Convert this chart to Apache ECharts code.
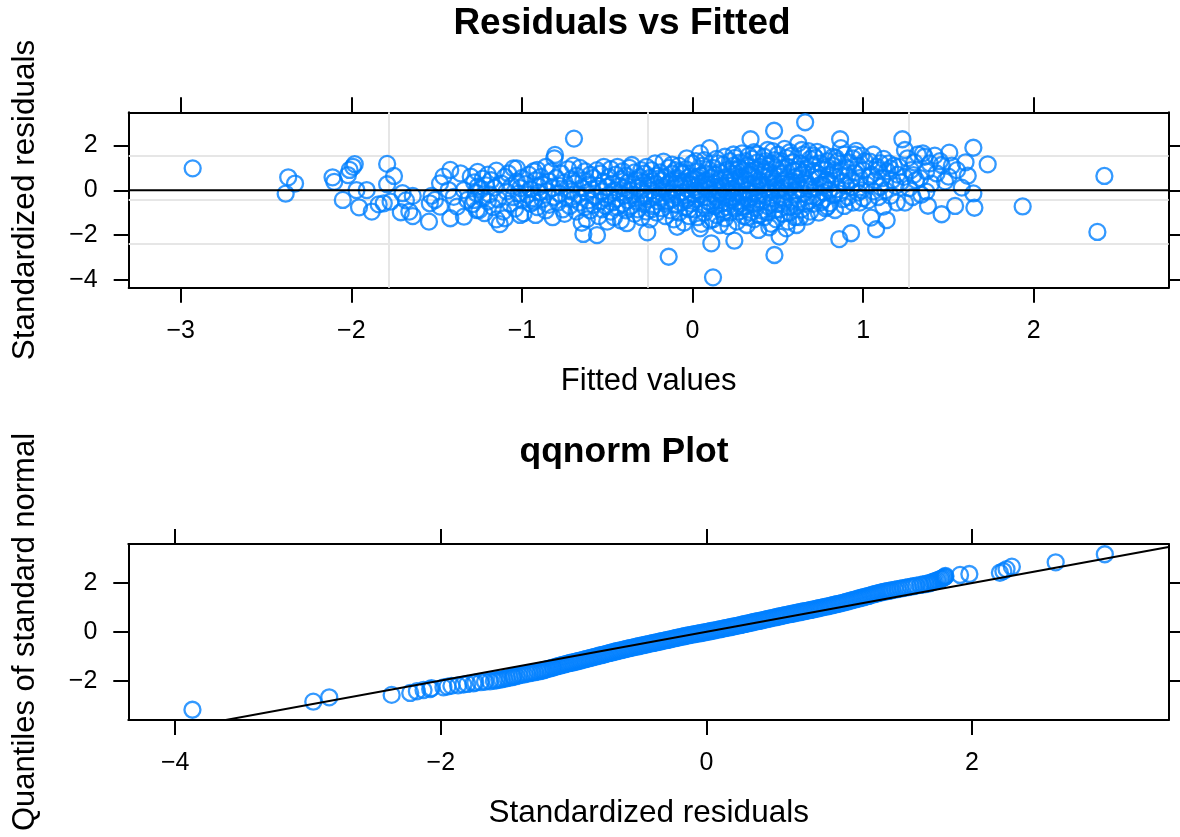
<!DOCTYPE html>
<html>
<head>
<meta charset="utf-8">
<title>Residuals vs Fitted</title>
<script src="https://cdn.jsdelivr.net/npm/echarts@6/dist/echarts.min.js"></script>
<style>
  html, body { margin: 0; padding: 0; background: #fff; }
  #chart { width: 1180px; height: 837px; }
</style>
</head>
<body>
<div id="chart"></div>
<script>
// fitted value / standardized residual pairs
const fittedResid = [
  // left tail
  [-2.93,0.98],[-2.37,0.58],[-2.33,0.30],[-2.385,-0.15],[-2.11,0.58],[-2.10,0.38],[-2.05,-0.43],[-2.02,0.68],
  [-2.01,0.91],[-1.98,1.17],[-1.99,1.05],[-1.97,0.01],[-1.955,-0.76],[-1.91,0.01],[-1.88,-0.95],[-1.84,-0.63],
  [-1.81,-0.58],[-1.79,1.18],[-1.75,0.64],[-1.79,0.27],[-1.77,-0.51],[-1.71,-0.98],[-1.70,-0.13],[-1.68,-0.45],
  [-1.64,-0.25],[-1.66,-0.95],[-1.64,-1.15],[-1.545,-1.40],[-1.54,-0.58],[-1.53,-0.25],[-1.51,-0.43],[-1.48,0.31],
  [-1.48,-0.73],[-1.46,0.61],[-1.43,0.01],[-1.42,0.91],[-1.42,-1.25],[-1.38,-0.73],[-1.34,-1.18],[-1.40,-0.29],
  [-1.34,0.01],[-1.32,-0.43],[-1.30,0.61],[-1.36,0.76],[-1.28,-0.43],[-1.265,-0.88],[-1.26,0.16],
  // -1.3 .. -0.8
  [-1.29,-0.62],[-1.28,0.35],[-1.27,-0.12],[-1.26,0.82],[-1.25,-0.88],[-1.24,0.05],[-1.23,-0.35],[-1.23,0.52],
  [-1.22,-1.02],[-1.21,0.22],[-1.2,-0.5],[-1.2,0.7],[-1.19,-0.18],[-1.18,0.45],[-1.17,-0.75],[-1.16,0.12],
  [-1.15,-1.3],[-1.15,0.88],[-1.14,-0.4],[-1.13,-1.51],[-1.12,0.3],[-1.11,-0.95],[-1.1,-1.25],[-1.1,0.6],
  [-1.09,-0.05],[-1.08,0.75],[-1.07,-0.6],[-1.06,0.2],[-1.05,-0.3],[-1.05,0.98],[-1.04,-0.82],[-1.03,0.4],
  [-1.03,0.98],[-1.02,-0.15],[-1.01,-1.1],[-1.0,0.55],[-1.0,-0.45],[-1.01,0.1],[-0.99,-1.03],[-0.98,0.28],
  [-0.97,-0.2],[-0.96,0.7],[-0.95,-0.6],[-0.95,0.05],[-0.94,-0.35],[-0.93,0.85],[-0.92,-1.1],[-0.92,0.45],
  [-0.91,0.91],[-0.91,-0.75],[-0.9,0.15],[-0.9,-0.1],[-0.93,-0.5],[-0.89,0.6],[-0.88,-0.4],[-0.87,0.25],
  [-0.86,-0.9],[-0.86,1.05],[-0.85,-0.05],[-0.84,0.4],[-0.84,-0.65],[-0.83,0.85],[-0.82,-1.2],[-0.82,0.1],
  [-0.81,-0.3],[-0.81,1.43],[-0.8,0.55],[-0.806,1.58],
  // -0.8 .. -0.4
  [-0.79,-0.55],[-0.78,0.2],[-0.78,-0.15],[-0.77,0.75],[-0.76,-0.85],[-0.75,0.35],[-0.75,-1.05],[-0.74,-0.3],
  [-0.73,0.95],[-0.72,0.05],[-0.72,-0.7],[-0.71,0.5],[-0.7,-0.4],[-0.7,1.1],[-0.695,2.31],[-0.71,-0.05],
  [-0.69,0.3],[-0.68,-0.95],[-0.68,0.65],[-0.67,-0.2],[-0.66,1.0],[-0.66,-0.55],[-0.65,0.1],[-0.64,-1.95],
  [-0.64,0.45],[-0.63,-0.75],[-0.63,0.85],[-0.62,-0.1],[-0.62,-1.3],[-0.61,0.25],[-0.61,-0.45],[-0.6,0.7],
  [-0.6,-0.9],[-0.65,-1.45],[-0.59,0.05],[-0.58,-0.65],[-0.58,0.55],[-0.57,-0.3],[-0.56,-2.0],[-0.56,0.9],
  [-0.55,-1.15],[-0.55,0.2],[-0.54,-0.5],[-0.54,0.75],[-0.53,-0.05],[-0.53,-0.85],[-0.52,0.4],[-0.52,1.05],
  [-0.51,-0.35],[-0.5,-1.4],[-0.5,0.15],[-0.51,-0.7],[-0.49,0.6],[-0.49,-0.2],[-0.48,-0.95],[-0.48,0.95],
  [-0.47,0.3],[-0.47,-0.55],[-0.46,-1.2],[-0.46,0.0],[-0.45,0.7],[-0.45,-0.4],[-0.44,1.05],[-0.44,-0.75],
  [-0.43,0.2],[-0.43,-0.1],[-0.42,-1.35],[-0.42,0.5],[-0.41,-0.6],[-0.41,0.85],[-0.4,-0.25],[-0.4,0.1],
  // -0.4 .. 0
  [-0.39,-0.9],[-0.39,0.65],[-0.385,-1.47],[-0.38,0.35],[-0.38,-0.45],[-0.37,0.0],[-0.37,1.0],[-0.36,-0.7],
  [-0.356,1.13],[-0.35,0.25],[-0.35,-0.2],[-0.34,0.8],[-0.34,-1.05],[-0.33,0.45],[-0.33,-0.5],[-0.32,0.1],
  [-0.32,-0.85],[-0.31,0.6],[-0.31,-0.3],[-0.3,0.9],[-0.3,-1.2],[-0.3,0.0],[-0.29,0.35],[-0.29,-0.6],
  [-0.28,0.75],[-0.28,-0.15],[-0.27,1.05],[-0.27,-0.95],[-0.265,-1.88],[-0.26,0.2],[-0.26,-0.4],[-0.25,0.55],
  [-0.25,-1.3],[-0.24,0.0],[-0.24,0.9],[-0.23,-0.7],[-0.23,0.4],[-0.22,-0.25],[-0.22,1.2],[-0.21,-1.0],
  [-0.21,0.65],[-0.2,0.1],[-0.2,-0.5],[-0.24,-0.85],[-0.22,0.3],[-0.28,-0.3],[-0.19,0.8],[-0.19,-0.3],
  [-0.18,0.45],[-0.18,-0.8],[-0.17,1.28],[-0.17,0.05],[-0.16,-1.15],[-0.16,0.6],[-0.15,-0.5],[-0.15,0.25],
  [-0.14,-2.97],[-0.14,1.0],[-0.14,-0.15],[-0.13,-0.9],[-0.13,0.4],[-0.12,0.75],[-0.12,-0.4],[-0.11,0.1],
  [-0.11,-1.3],[-0.1,0.9],[-0.1,-0.65],[-0.1,0.3],[-0.18,0.15],[-0.15,-0.05],[-0.12,1.15],[-0.16,-0.6],
  [-0.09,-0.2],[-0.09,0.55],[-0.08,-1.0],[-0.08,1.1],[-0.07,0.2],[-0.07,-0.55],[-0.06,0.75],[-0.06,-0.1],
  [-0.05,-1.45],[-0.05,0.4],[-0.04,-0.75],[-0.04,0.95],[-0.034,1.43],[-0.03,0.05],[-0.03,-0.35],[-0.02,0.6],
  [-0.02,-1.15],[-0.01,0.25],[-0.01,-0.6],[0.0,1.2],[0.0,-0.15],[-0.09,-1.63],[-0.06,0.35],[-0.04,-0.45],
  [-0.02,-0.85],[-0.07,0.85],[-0.01,0.45],[-0.05,-0.25],
  // 0 .. 0.4
  [0.01,-0.85],[0.01,0.5],[0.02,0.0],[0.02,-0.4],[0.03,0.85],[0.03,-1.2],[0.04,0.3],[0.044,1.65],
  [0.044,-1.7],[0.05,-0.2],[0.05,0.65],[0.06,-0.65],[0.06,1.1],[0.07,0.15],[0.07,-1.0],[0.08,0.45],
  [0.08,-0.3],[0.09,0.95],[0.09,-0.5],[0.1,1.88],[0.1,0.05],[0.1,-1.35],[0.02,1.3],[0.04,-0.05],
  [0.06,0.35],[0.08,-0.8],[0.03,0.6],[0.07,1.35],[0.05,-1.5],[0.09,0.25],[0.01,0.15],[0.08,0.75],
  [0.11,-2.37],[0.11,0.55],[0.12,-3.89],[0.12,-0.15],[0.12,1.0],[0.13,-0.7],[0.13,0.3],[0.14,-1.1],
  [0.14,1.4],[0.15,0.0],[0.15,-0.45],[0.16,0.8],[0.16,-1.55],[0.17,0.2],[0.17,-0.85],[0.18,1.15],
  [0.18,-0.25],[0.19,0.55],[0.19,-1.25],[0.2,-0.05],[0.2,0.9],[0.11,-0.6],[0.13,0.7],[0.14,-0.3],
  [0.16,0.45],[0.17,-0.6],[0.18,0.1],[0.19,1.5],[0.15,1.2],[0.12,-1.3],[0.2,-0.75],[0.14,0.15],
  [0.18,-1.0],[0.16,-0.1],[0.21,0.35],[0.21,-0.55],[0.22,1.3],[0.22,-1.0],[0.23,0.05],[0.23,0.75],
  [0.24,-0.3],[0.24,1.6],[0.245,-2.25],[0.25,0.5],[0.25,-0.8],[0.26,0.15],[0.26,-1.4],[0.27,1.0],
  [0.27,-0.15],[0.28,0.6],[0.28,-0.6],[0.29,1.65],[0.29,0.25],[0.3,-1.15],[0.3,0.85],[0.3,-0.35],
  [0.22,0.55],[0.23,-0.45],[0.24,1.1],[0.25,-0.05],[0.26,0.9],[0.27,-0.95],[0.28,0.4],[0.29,-0.2],
  [0.21,-1.6],[0.23,0.2],[0.26,-0.5],[0.28,1.25],[0.25,1.45],[0.29,-0.75],[0.31,0.5],[0.31,-0.7],
  [0.318,-1.55],[0.32,1.1],[0.32,0.0],[0.33,-0.4],[0.33,0.7],[0.34,2.28],[0.34,-1.0],[0.35,0.3],
  [0.35,1.4],[0.36,-0.15],[0.36,-1.3],[0.37,0.9],[0.37,0.15],[0.38,-0.55],[0.38,1.6],[0.386,-1.77],
  [0.39,0.45],[0.39,-0.25],[0.4,1.05],[0.4,-0.9],[0.31,1.3],[0.32,-1.2],[0.33,0.25],[0.34,0.85],
  [0.35,-0.6],[0.36,0.6],[0.37,-0.05],[0.38,1.25],[0.39,-1.1],[0.34,-0.3],[0.36,1.7],[0.33,1.55],
  [0.37,-0.8],[0.4,0.2],
  // 0.4 .. 0.8
  [0.41,0.7],[0.41,-0.45],[0.42,1.5],[0.42,-1.2],[0.43,0.1],[0.43,0.95],[0.44,-0.7],[0.44,1.8],
  [0.45,0.35],[0.45,-0.1],[0.46,-1.5],[0.46,1.2],[0.47,0.55],[0.47,-0.35],[0.478,2.66],[0.48,-0.9],
  [0.48,-2.89],[0.49,0.2],[0.49,1.0],[0.5,-0.6],[0.5,1.6],[0.5,0.0],[0.41,0.25],[0.42,-0.2],
  [0.43,1.3],[0.44,-1.0],[0.45,0.8],[0.46,0.05],[0.47,1.75],[0.48,0.4],[0.49,-1.3],[0.44,0.6],
  [0.46,-0.55],[0.42,0.85],[0.48,1.35],[0.45,-1.65],[0.51,-2.07],[0.51,0.75],[0.52,-0.3],[0.52,1.3],
  [0.53,0.3],[0.53,-1.05],[0.54,1.85],[0.54,-0.5],[0.55,0.55],[0.55,-0.05],[0.56,1.05],[0.56,-1.4],
  [0.57,0.15],[0.57,-0.75],[0.58,1.55],[0.58,0.4],[0.59,-0.2],[0.59,0.9],[0.6,-1.2],[0.6,0.6],
  [0.51,-0.85],[0.52,0.1],[0.53,1.0],[0.54,0.45],[0.55,-1.7],[0.56,0.25],[0.57,1.7],[0.58,-0.45],
  [0.59,1.25],[0.6,0.0],[0.53,-0.6],[0.55,1.45],[0.57,-1.0],[0.6,0.85],[0.61,-1.55],[0.61,0.35],
  [0.62,2.1],[0.62,-0.4],[0.63,1.2],[0.63,0.05],[0.64,-0.85],[0.64,0.7],[0.65,1.6],[0.65,-0.15],
  [0.66,3.04],[0.66,0.45],[0.67,-1.18],[0.67,1.0],[0.68,-0.5],[0.68,0.2],[0.69,1.4],[0.69,-0.95],
  [0.7,0.6],[0.7,-0.25],[0.62,0.9],[0.63,-1.2],[0.64,1.8],[0.66,-0.6],[0.67,0.3],[0.68,1.75],
  [0.69,0.05],[0.65,0.8],[0.7,1.15],[0.61,-0.7],[0.71,0.85],[0.71,-0.6],[0.72,1.45],[0.72,0.1],
  [0.73,1.72],[0.73,-0.3],[0.74,0.55],[0.74,-1.0],[0.75,1.2],[0.75,0.25],[0.76,-0.45],[0.76,0.95],
  [0.77,1.6],[0.77,-0.1],[0.78,0.4],[0.78,-0.8],[0.787,0.46],[0.79,-0.73],[0.79,1.3],[0.8,0.7],
  [0.8,0.0],[0.73,0.75],[0.75,-0.55],[0.77,0.2],[0.79,1.05],[0.71,1.55],
  // 0.8 .. 1.3
  [0.806,-0.58],[0.81,0.3],[0.82,1.1],[0.825,1.5],[0.83,-0.2],[0.835,-0.88],[0.84,0.6],[0.85,1.3],
  [0.85,0.05],[0.86,-2.18],[0.865,2.28],[0.87,1.88],[0.87,0.85],[0.88,-0.4],[0.88,0.4],[0.89,1.6],
  [0.89,-0.7],[0.9,0.2],[0.9,1.0],[0.83,0.9],[0.86,-0.15],[0.84,1.45],[0.91,0.65],[0.91,-0.3],
  [0.92,1.25],[0.929,-1.92],[0.93,0.15],[0.94,1.43],[0.94,-0.55],[0.95,0.8],[0.96,1.76],[0.96,0.35],
  [0.97,-0.1],[0.97,1.1],[0.98,-0.55],[0.98,0.55],[0.99,1.55],[0.99,0.0],[1.0,0.9],[1.0,-0.35],
  [0.95,1.6],[0.93,0.45],[1.01,1.3],[1.02,0.25],[1.03,-0.45],[1.04,1.28],[1.046,-1.22],[1.05,0.7],
  [1.06,1.6],[1.06,-0.05],[1.07,0.45],[1.076,-1.74],[1.08,1.05],[1.09,-0.3],[1.09,0.9],[1.1,1.21],
  [1.1,0.15],[1.04,0.6],[1.11,0.55],[1.118,-0.73],[1.12,1.4],[1.13,0.0],[1.138,-1.33],[1.14,0.85],
  [1.15,1.2],[1.158,0.98],[1.16,-0.25],[1.17,0.45],[1.18,1.1],[1.19,0.2],[1.197,-0.55],[1.2,0.7],
  [1.21,1.05],[1.22,0.35],[1.23,2.28],[1.24,0.6],[1.245,1.80],[1.245,-0.55],[1.26,1.43],[1.27,0.1],
  [1.28,0.9],[1.295,0.68],[1.29,-0.3],[1.3,1.25],
  // right tail
  [1.31,0.45],[1.32,1.6],[1.334,0.54],[1.34,-0.2],[1.35,1.65],[1.36,1.50],[1.37,-0.06],[1.37,0.85],
  [1.38,-0.69],[1.39,1.2],[1.40,0.3],[1.42,1.55],[1.43,0.75],[1.45,1.3],[1.46,1.13],[1.46,-1.07],
  [1.48,0.4],[1.50,0.61],[1.505,1.68],[1.52,1.1],[1.539,-0.70],[1.55,0.9],[1.578,0.12],[1.60,1.25],
  [1.613,0.65],[1.646,1.90],[1.646,-0.14],[1.652,-0.78],[1.73,1.16],[1.935,-0.72],[2.373,-1.86],[2.414,0.64]
];

// sorted standardized residual / normal quantile pairs
const qqPoints = [
  [-3.87,-3.19],[-2.96,-2.86],[-2.84,-2.68],[-2.37,-2.58],[-2.23,-2.50],[-2.18,-2.43],[-2.13,-2.38],[-2.08,-2.34],
  [-2.07,-2.30],[-1.98,-2.27],[-1.95,-2.24],[-1.92,-2.21],[-1.87,-2.19],[-1.83,-2.16],[-1.80,-2.13],[-1.755,-2.11],
  [-1.74,-2.08],[-1.70,-2.06],[-1.667,-2.04],[-1.63,-2.02],[-1.60,-2.0],
  [-1.58,-1.98],[-1.56,-1.96],[-1.54,-1.94],[-1.52,-1.92],[-1.50,-1.89],[-1.48,-1.87],[-1.46,-1.85],[-1.45,-1.83],
  [-1.43,-1.81],[-1.41,-1.78],[-1.39,-1.76],[-1.37,-1.74],[-1.35,-1.71],[-1.33,-1.69],[-1.31,-1.67],[-1.29,-1.65],
  [-1.27,-1.62],[-1.25,-1.60],[-1.235,-1.58],[-1.22,-1.56],[-1.205,-1.53],[-1.19,-1.51],[-1.175,-1.49],[-1.16,-1.47],
  [-1.15,-1.45],[-1.135,-1.43],[-1.12,-1.40],[-1.105,-1.385],[-1.09,-1.36],[-1.075,-1.34],[-1.06,-1.315],[-1.045,-1.30],
  [-1.03,-1.27],[-1.015,-1.26],[-1.0,-1.24],[-0.985,-1.22],[-0.97,-1.20],[-0.955,-1.18],[-0.94,-1.16],[-0.925,-1.135],
  [-0.91,-1.115],[-0.895,-1.09],[-0.88,-1.075],[-0.865,-1.05],[-0.85,-1.03],[-0.835,-1.01],[-0.82,-0.99],[-0.805,-0.965],
  [-0.79,-0.95],[-0.775,-0.925],[-0.76,-0.905],[-0.745,-0.885],[-0.73,-0.86],[-0.715,-0.845],[-0.70,-0.82],[-0.685,-0.80],
  [-0.67,-0.78],[-0.655,-0.76],[-0.64,-0.745],[-0.625,-0.72],[-0.61,-0.705],[-0.595,-0.685],[-0.58,-0.665],[-0.565,-0.65],
  [-0.55,-0.63],[-0.535,-0.61],[-0.52,-0.595],[-0.505,-0.575],[-0.49,-0.56],[-0.475,-0.54],[-0.46,-0.52],[-0.445,-0.505],
  [-0.43,-0.485],[-0.415,-0.47],[-0.40,-0.45],[-0.385,-0.435],[-0.37,-0.415],[-0.355,-0.40],[-0.34,-0.38],[-0.325,-0.36],
  [-0.31,-0.345],[-0.295,-0.325],[-0.28,-0.31],[-0.265,-0.29],[-0.25,-0.27],[-0.235,-0.255],[-0.22,-0.235],[-0.205,-0.22],
  [-0.19,-0.20],[-0.175,-0.185],[-0.16,-0.165],[-0.145,-0.15],[-0.13,-0.13],[-0.115,-0.115],[-0.10,-0.10],[-0.085,-0.085],
  [-0.07,-0.07],[-0.055,-0.055],[-0.04,-0.04],[-0.025,-0.025],[-0.01,-0.01],[0.005,0.005],[0.02,0.02],[0.035,0.04],
  [0.05,0.055],[0.065,0.07],[0.08,0.09],[0.095,0.105],[0.11,0.12],[0.125,0.14],[0.14,0.155],[0.155,0.17],
  [0.17,0.19],[0.185,0.205],[0.20,0.22],[0.215,0.24],[0.23,0.255],[0.245,0.275],[0.26,0.29],[0.275,0.31],
  [0.29,0.33],[0.305,0.345],[0.32,0.365],[0.335,0.38],[0.35,0.40],[0.365,0.42],[0.38,0.435],[0.395,0.455],
  [0.41,0.47],[0.425,0.49],[0.44,0.51],[0.455,0.525],[0.47,0.545],[0.485,0.56],[0.50,0.58],[0.515,0.60],
  [0.53,0.615],[0.545,0.635],[0.56,0.65],[0.575,0.67],[0.59,0.69],[0.605,0.705],[0.62,0.72],[0.635,0.74],
  [0.65,0.755],[0.665,0.77],[0.68,0.79],[0.695,0.805],[0.71,0.82],[0.725,0.84],[0.74,0.855],[0.755,0.87],
  [0.77,0.89],[0.785,0.905],[0.80,0.92],[0.815,0.94],[0.83,0.955],[0.845,0.975],[0.86,0.99],[0.875,1.01],
  [0.89,1.03],[0.905,1.045],[0.92,1.065],[0.935,1.08],[0.95,1.10],[0.965,1.12],[0.98,1.14],[0.995,1.155],
  [1.01,1.175],[1.025,1.195],[1.04,1.215],[1.055,1.24],[1.07,1.26],[1.085,1.285],[1.10,1.31],[1.115,1.33],
  [1.13,1.35],[1.145,1.375],[1.16,1.395],[1.175,1.415],[1.19,1.435],[1.205,1.46],[1.22,1.48],[1.235,1.505],
  [1.25,1.53],[1.265,1.55],[1.28,1.575],[1.295,1.595],[1.31,1.615],[1.325,1.635],[1.34,1.655],[1.355,1.67],
  [1.37,1.685],[1.385,1.70],[1.40,1.72],[1.42,1.74],[1.44,1.76],[1.46,1.78],[1.48,1.80],[1.50,1.82],
  [1.52,1.84],[1.54,1.86],[1.56,1.88],[1.58,1.90],[1.61,1.93],[1.63,1.95],[1.65,1.97],[1.67,1.99],
  [1.684,2.01],[1.70,2.04],[1.71,2.06],[1.72,2.09],[1.734,2.11],[1.745,2.14],[1.76,2.17],[1.77,2.19],
  [1.78,2.21],[1.79,2.24],[1.797,2.27],[1.80,2.30],[1.91,2.34],[1.98,2.38],[2.21,2.43],[2.236,2.50],
  [2.26,2.58],[2.30,2.68],[2.63,2.86],[3.0,3.19]
];

// reference line through the qq points
const qqLine = [[-4.35, -4.34], [3.48, 3.49]];

const topXTicks = [-3, -2, -1, 0, 1, 2];
const topYTicks = [-4, -2, 0, 2];
const qqXTicks = [-4, -2, 0, 2];
const qqYTicks = [-2, 0, 2];

// axis extents (data range padded like lattice does)
const topXRange = [-3.305, 2.791];
const topYRange = [-4.352, 3.485];
const qqXRange = [-4.353, 3.481];
const qqYRange = [-3.61, 3.61];

const FONT = '"Liberation Sans", Arial, Helvetica, sans-serif';
const BLUE = '#0080ff';

const quarters = (r) => [1, 2, 3].map((k) => r[0] + ((r[1] - r[0]) * k) / 4);
const minus = (v) => (v < 0 ? '\u2212' + Math.abs(v) : String(v));

const makeAxis = (gridIndex, position, range, ticks, showLabel) => ({
  type: 'value',
  gridIndex: gridIndex,
  position: position,
  min: range[0],
  max: range[1],
  axisLine: { show: true, onZero: false, lineStyle: { color: '#000', width: 2 } },
  axisTick: { show: true, inside: false, length: 15, customValues: ticks, lineStyle: { color: '#000', width: 2 } },
  axisLabel: {
    show: showLabel,
    customValues: ticks,
    margin: 31,
    color: '#000',
    fontSize: 25,
    fontFamily: FONT,
    formatter: minus
  },
  splitLine: { show: false }
})

const chart = echarts.init(document.getElementById('chart'), null, { renderer: 'canvas' });

const circleStyle = { color: 'rgba(0,0,0,0)', borderColor: BLUE, borderWidth: 2.3 };

const option = {
  animation: false,
  backgroundColor: '#fff',
  grid: [
    { left: 128.7, top: 112.3, width: 1040, height: 175.4 },
    { left: 128.3, top: 544, width: 1040.4, height: 176 }
  ],
  xAxis: [
    makeAxis(0, 'bottom', topXRange, topXTicks, true),
    makeAxis(0, 'top', topXRange, topXTicks, false),
    makeAxis(1, 'bottom', qqXRange, qqXTicks, true),
    makeAxis(1, 'top', qqXRange, qqXTicks, false)
  ],
  yAxis: [
    makeAxis(0, 'left', topYRange, topYTicks, true),
    makeAxis(0, 'right', topYRange, topYTicks, false),
    makeAxis(1, 'left', qqYRange, qqYTicks, true),
    makeAxis(1, 'right', qqYRange, qqYTicks, false)
  ],
  series: [
    {
      type: 'scatter',
      xAxisIndex: 0,
      yAxisIndex: 0,
      data: fittedResid,
      symbol: 'circle',
      symbolSize: 16,
      progressive: 0,
      silent: true,
      itemStyle: circleStyle,
      z: 2,
      markLine: {
        z: 1,
        silent: true,
        symbol: 'none',
        label: { show: false },
        lineStyle: { color: '#e6e6e6', width: 2, type: 'solid' },
        data: [
          ...quarters(topXRange).map((v) => ({ xAxis: v })),
          ...quarters(topYRange).map((v) => ({ yAxis: v }))
        ]
      }
    },
    {
      type: 'line',
      xAxisIndex: 0,
      yAxisIndex: 0,
      data: [[topXRange[0], 0], [topXRange[1], 0]],
      symbol: 'none',
      silent: true,
      lineStyle: { color: '#000', width: 2 },
      z: 3
    },
    {
      type: 'scatter',
      xAxisIndex: 2,
      yAxisIndex: 2,
      data: qqPoints,
      symbol: 'circle',
      symbolSize: 16,
      progressive: 0,
      silent: true,
      itemStyle: circleStyle,
      z: 2
    },
    {
      type: 'line',
      xAxisIndex: 2,
      yAxisIndex: 2,
      data: qqLine,
      symbol: 'none',
      silent: true,
      clip: true,
      lineStyle: { color: '#000', width: 2 },
      z: 3
    }
  ],
  graphic: [
    { type: 'text', x: 622, y: 24, style: { text: 'Residuals vs Fitted', font: 'bold 37px ' + FONT, fill: '#000', align: 'center', verticalAlign: 'middle' } },
    { type: 'text', x: 648.7, y: 381, style: { text: 'Fitted values', font: '31px ' + FONT, fill: '#000', align: 'center', verticalAlign: 'middle' } },
    { type: 'text', x: 25, y: 200, rotation: Math.PI / 2, style: { text: 'Standardized residuals', font: '31.5px ' + FONT, fill: '#000', align: 'center', verticalAlign: 'middle' } },
    { type: 'text', x: 624, y: 452, style: { text: 'qqnorm Plot', font: 'bold 35.5px ' + FONT, fill: '#000', align: 'center', verticalAlign: 'middle' } },
    { type: 'text', x: 648.7, y: 813, style: { text: 'Standardized residuals', font: '31.5px ' + FONT, fill: '#000', align: 'center', verticalAlign: 'middle' } },
    { type: 'text', x: 25, y: 632, rotation: Math.PI / 2, style: { text: 'Quantiles of standard normal', font: '31px ' + FONT, fill: '#000', align: 'center', verticalAlign: 'middle' } }
  ]
}

chart.setOption(option);
</script>
</body>
</html>
